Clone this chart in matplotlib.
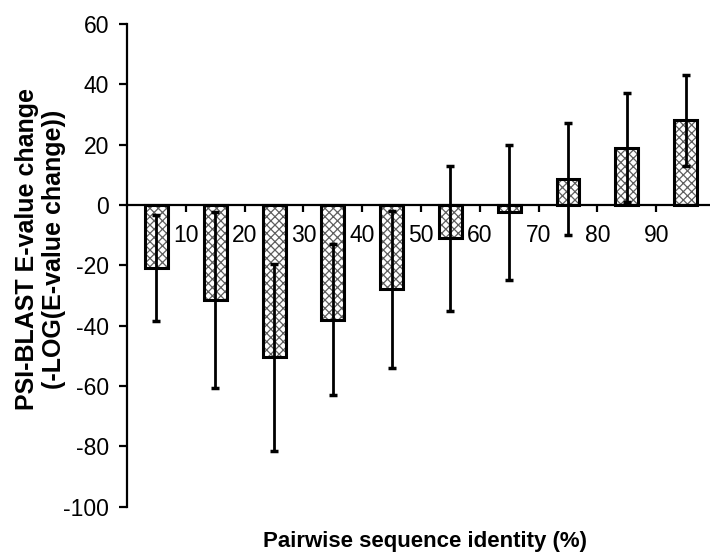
import numpy as np
import matplotlib
matplotlib.use("Agg")
import matplotlib.pyplot as plt

plt.rcParams['font.family'] = ['Liberation Sans', 'DejaVu Sans']
plt.rcParams['axes.unicode_minus'] = False
plt.rcParams['hatch.linewidth'] = 0.9

# bins of pairwise identity, bar means and error half-widths
tick_labels = ['10', '20', '30', '40', '50', '60', '70', '80', '90']
means = [-21, -31.5, -50.5, -38, -28, -11, -2.5, 8.5, 19, 28]
errors = [17.5, 29, 31, 25, 26, 24, 22.5, 18.5, 18, 15]

x = np.arange(len(means))

fig = plt.figure(figsize=(7.1, 5.55), dpi=100)
ax = fig.add_axes([0.179, 0.087, 0.828, 0.870])

# hatched fill in grey, then black outline on top
ax.bar(x, means, width=0.39, color='white', edgecolor='#5e5e5e', hatch='xxxx', linewidth=0)
ax.bar(x, means, width=0.39, fill=False, edgecolor='black', linewidth=2.2)
ax.errorbar(x, means, yerr=errors, fmt='none', ecolor='black', elinewidth=2,
            capsize=3, capthick=2.5)

ax.set_xlim(-0.5, 9.5)
ax.set_ylim(-100, 60)
ax.set_yticks(range(-100, 61, 20))

ax.spines['top'].set_visible(False)
ax.spines['right'].set_visible(False)
ax.spines['bottom'].set_position(('data', 0))
ax.spines['bottom'].set_linewidth(1.6)
ax.spines['left'].set_linewidth(1.6)

ax.set_xticks(x[:-1] + 0.5)
ax.set_xticklabels(tick_labels)
ax.tick_params(axis='x', direction='out', length=5, width=1.6, labelsize=16.5, pad=9)
ax.tick_params(axis='y', direction='out', length=6, width=1.6, labelsize=16.5, pad=7)

fig.text(0.057, 0.551, 'PSI-BLAST E-value change\n(-LOG(E-value change))',
         fontsize=18, fontweight='bold', rotation=90, ha='center', va='center',
         multialignment='center', linespacing=1.12)
fig.text(0.599, 0.025, 'Pairwise sequence identity (%)', fontsize=16,
         fontweight='bold', ha='center', va='center')

fig.savefig('out.png', dpi=100)
